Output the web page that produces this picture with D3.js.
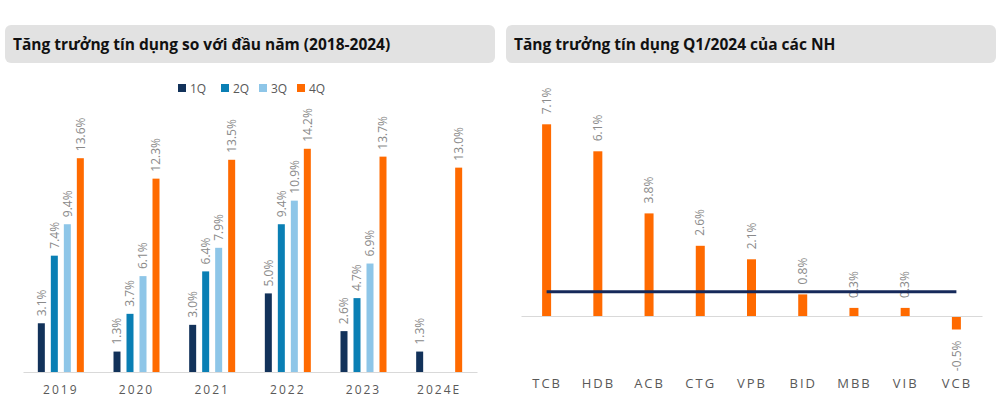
<!DOCTYPE html>
<html><head><meta charset="utf-8">
<script src="https://cdn.jsdelivr.net/npm/d3@7"></script>
<style>
html,body{margin:0;padding:0;background:#fff;}
svg{display:block;font-family:"Open Sans",sans-serif;}
</style></head>
<body>
<svg id="c" width="1000" height="403"></svg>
<script>
// ---- Data ----
const leftTitle = "Tăng trưởng tín dụng so với đầu năm (2018-2024)";
const rightTitle = "Tăng trưởng tín dụng Q1/2024 của các NH";
const years = ["2019", "2020", "2021", "2022", "2023", "2024E"];
const quarters = ["1Q", "2Q", "3Q", "4Q"];
const q1 = [3.1, 1.3, 3.0, 5.0, 2.6, 1.3];
const q2 = [7.4, 3.7, 6.4, 9.4, 4.7, null];
const q3 = [9.4, 6.1, 7.9, 10.9, 6.9, null];
const q4 = [13.6, 12.3, 13.5, 14.2, 13.7, 13.0];
const banks = ["TCB", "HDB", "ACB", "CTG", "VPB", "BID", "MBB", "VIB", "VCB"];
const bankGrowth = [7.1, 6.1, 3.8, 2.6, 2.1, 0.8, 0.3, 0.3, -0.5];
const refLine = 0.9;

const qColors = {"1Q": "#12325a", "2Q": "#0a7fb4", "3Q": "#8ec6e8", "4Q": "#ff6a00"};
const qSeries = {"1Q": q1, "2Q": q2, "3Q": q3, "4Q": q4};

const svg = d3.select("#c");
const fmt = v => v.toFixed(1) + "%";

// ---- Header boxes ----
function header(x, w, title) {
  svg.append("rect").attr("x", x).attr("y", 25).attr("width", w).attr("height", 38)
    .attr("rx", 6).attr("fill", "#e2e2e2");
  svg.append("text").attr("x", x + 8).attr("y", 50).text(title)
    .attr("font-size", 15.5).attr("font-weight", 700).attr("fill", "#111");
}
header(5, 490, leftTitle);
header(506, 490, rightTitle);

// ---- Left chart ----
const lx = d3.scaleBand().domain(years).range([23, 477]);
const lq = d3.scalePoint().domain(quarters).range([-19.5, 19.5]);
const ly = d3.scaleLinear().domain([0, 16]).range([372, 372 - 16 * 15.72]);
const barW = 7;

const lg = svg.append("g");
const lbars = [];
years.forEach((yr, i) => {
  quarters.forEach(q => {
    const v = qSeries[q][i];
    if (v !== null && v !== undefined) lbars.push({yr, q, v});
  });
});
lg.selectAll("rect.bar").data(lbars).join("rect")
  .attr("x", d => lx(d.yr) + lx.bandwidth() / 2 + lq(d.q) - barW / 2)
  .attr("y", d => ly(d.v))
  .attr("width", barW)
  .attr("height", d => ly(0) - ly(d.v))
  .attr("fill", d => qColors[d.q]);
lg.selectAll("text.lbl").data(lbars).join("text")
  .attr("transform", d => {
    const cx = lx(d.yr) + lx.bandwidth() / 2 + lq(d.q);
    return `translate(${cx},${ly(d.v) - 7}) rotate(-90)`;
  })
  .attr("dy", "0.35em")
  .attr("font-size", 12).attr("fill", "#8a8a8a")
  .text(d => fmt(d.v));
// axis
const lAxis = lg.append("g").attr("transform", `translate(0,${ly(0)})`)
  .call(d3.axisBottom(lx).tickSize(0).tickPadding(0));
lAxis.select(".domain").attr("stroke", "#d9d9d9").attr("stroke-width", 1);
lAxis.selectAll("text").attr("y", 22).attr("dy", 0)
  .attr("font-size", 12).attr("fill", "#595959")
  .attr("font-family", "Open Sans, sans-serif")
  .style("letter-spacing", "2px");

// legend
const legX = [178, 221, 259, 297];
const leg = svg.append("g");
quarters.forEach((q, i) => {
  leg.append("rect").attr("x", legX[i]).attr("y", 84).attr("width", 8).attr("height", 8).attr("fill", qColors[q]);
  leg.append("text").attr("x", legX[i] + 12).attr("y", 92.5).text(q)
    .attr("font-size", 12).attr("fill", "#595959");
});

// ---- Right chart ----
const rx = d3.scalePoint().domain(banks).range([521, 982]).padding(0.5);
const ry = d3.scaleLinear().domain([-1, 8]).range([316 + 27, 316 - 8 * 27]);
const rW = 9;
const rdata = banks.map((b, i) => ({b, v: bankGrowth[i]}));
const rg = svg.append("g");
rg.selectAll("rect").data(rdata).join("rect")
  .attr("x", d => rx(d.b) - rW / 2)
  .attr("y", d => ry(Math.max(0, d.v)))
  .attr("width", rW)
  .attr("height", d => Math.abs(ry(d.v) - ry(0)))
  .attr("fill", "#ff6a00");
rg.selectAll("text.lbl").data(rdata).join("text")
  .attr("transform", d => d.v >= 0
    ? `translate(${rx(d.b)},${ry(d.v) - 10}) rotate(-90)`
    : `translate(${rx(d.b)},${ry(d.v) + 11}) rotate(-90)`)
  .attr("text-anchor", d => d.v >= 0 ? "start" : "end")
  .attr("dy", "0.35em")
  .attr("font-size", 12).attr("fill", "#8a8a8a")
  .text(d => fmt(d.v));
const rAxis = rg.append("g").attr("transform", `translate(0,${ry(0)})`)
  .call(d3.axisBottom(rx).tickSize(0).tickPadding(0));
rAxis.select(".domain").attr("stroke", "#d9d9d9").attr("stroke-width", 1);
rAxis.selectAll("text").attr("y", 72).attr("dy", 0)
  .attr("font-size", 13).attr("fill", "#595959")
  .attr("font-family", "Open Sans, sans-serif")
  .style("letter-spacing", "2px");
// reference line
rg.append("line")
  .attr("x1", rx(banks[0])).attr("x2", rx(banks[banks.length - 1]))
  .attr("y1", ry(refLine)).attr("y2", ry(refLine))
  .attr("stroke", "#15295a").attr("stroke-width", 3);
</script>
</body></html>
